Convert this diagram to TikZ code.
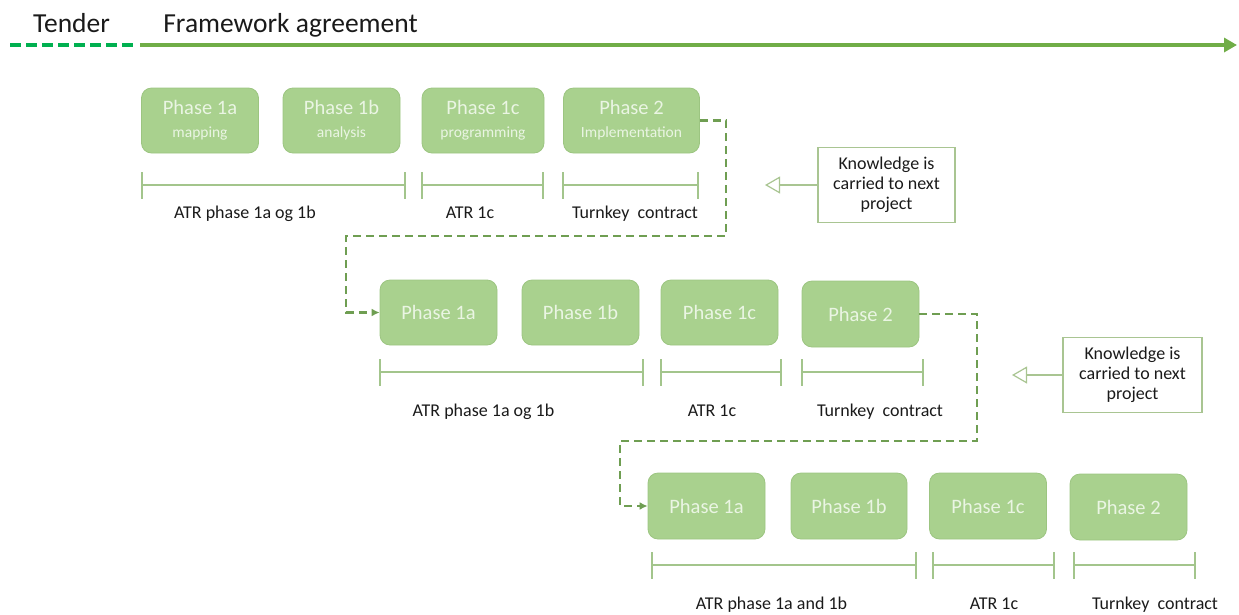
\documentclass[tikz,border=0pt]{standalone}
\usepackage{fontspec}
\setmainfont{Carlito}
\usetikzlibrary{arrows.meta}
\definecolor{boxfill}{HTML}{A9D18E}
\definecolor{boxline}{HTML}{9CC581}
\definecolor{boxtext}{HTML}{EAF5E3}
\definecolor{brk}{HTML}{A3C58C}
\definecolor{conn}{HTML}{6F9E52}
\definecolor{topline}{HTML}{70AD47}
\definecolor{tender}{HTML}{00B050}
\definecolor{kbox}{HTML}{A9C592}
\definecolor{txt}{HTML}{1A1A1A}
\tikzset{
  phasebox/.style={draw=boxline, line width=0.8pt, fill=boxfill, rounded corners=10pt,
    text=boxtext, align=center, inner sep=0pt,
    font=\fontsize{20.5}{23}\selectfont},
  bracket/.style={draw=brk, line width=1.2pt},
  lbl/.style={anchor=base, text=txt, font=\fontsize{18}{20}\selectfont, inner sep=0pt},
  connline/.style={draw=conn, line width=2.2pt, dash pattern=on 8pt off 5pt, -{Latex[length=8pt,width=8pt]}},
  kn/.style={draw=kbox, line width=1.2pt, align=center, text=txt, inner sep=0pt,
    font=\fontsize{18}{20}\selectfont},
  knarrow/.style={draw=kbox, line width=1.4pt, -{Triangle[open,length=15pt,width=17pt,line width=1.2pt]}},
}
\newcommand{\sub}[1]{{\fontsize{15.5}{23}\selectfont #1}}
\begin{document}
\begin{tikzpicture}[x=1pt,y=-1pt]
\useasboundingbox (0,0) rectangle (1239,614);
% top timeline
\node[anchor=base, text=txt, font=\fontsize{27.5}{30}\selectfont, inner sep=0pt] (tender) at (71.5,32) {Tender};
\node[anchor=base, text=txt, font=\fontsize{27.5}{30}\selectfont, inner sep=0pt] (fw) at (290.5,32) {Framework agreement};
\coordinate (t0) at (10,45);
\coordinate (t1) at (136,45);
\coordinate (f0) at (140,45);
\coordinate (f1) at (1237,45);
\draw[tender, line width=4pt, dash pattern=on 11pt off 5pt] (t0) -- (t1);
\draw[topline, line width=4pt, -{Triangle[length=13pt,width=14pt]}] (f0) -- (f1);
% row 1
\node[phasebox, minimum width=117pt, minimum height=65pt] (r1a) at (200,120.5) {Phase 1a\\\sub{mapping}};
\node[phasebox, minimum width=117pt, minimum height=65pt] (r1b) at (341.5,120.5) {Phase 1b\\\sub{analysis}};
\node[phasebox, minimum width=122pt, minimum height=65pt] (r1c) at (483,120.5) {Phase 1c\\\sub{programming}};
\node[phasebox, minimum width=136pt, minimum height=65pt] (r12) at (631.5,120.5) {Phase 2\\\sub{Implementation}};
\draw[bracket] (142,172)--(142,199) (142,185)--(405,185) (405,172)--(405,199);
\draw[bracket] (422,172)--(422,199) (422,185)--(543,185) (543,172)--(543,199);
\draw[bracket] (563,172)--(563,199) (563,185)--(698,185) (698,172)--(698,199);
\node[lbl] (l1a) at (245,218) {ATR phase 1a og 1b};
\node[lbl] (l1c) at (470,218) {ATR 1c};
\node[lbl] (l12) at (635,218) {Turnkey\hspace{0.45em}contract};
% knowledge 1
\node[kn, minimum width=137pt, minimum height=75pt] (k1) at (886.5,185) {Knowledge is\\carried to next\\project};
\coordinate (k1t) at (765,185);
\draw[knarrow] (k1.west) -- (k1t);
% connector 1
\coordinate (c1) at (726,236);
\coordinate (c2) at (346,236);
% row 2
\node[phasebox, minimum width=117pt, minimum height=65pt] (r2a) at (438.5,312.5) {Phase 1a};
\node[phasebox, minimum width=117pt, minimum height=65pt] (r2b) at (580.5,312.5) {Phase 1b};
\node[phasebox, minimum width=117pt, minimum height=65pt] (r2c) at (719.5,312.5) {Phase 1c};
\node[phasebox, minimum width=117pt, minimum height=66pt] (r22) at (860.5,314) {Phase 2};
\draw[connline] (r12.east) -| (c1) -- (c2) |- (r2a.west);
\draw[bracket] (380,359)--(380,386) (380,372)--(643,372) (643,359)--(643,386);
\draw[bracket] (661,359)--(661,386) (661,372)--(781,372) (781,359)--(781,386);
\draw[bracket] (802,359)--(802,386) (802,372)--(923,372) (923,359)--(923,386);
\node[lbl] (l2a) at (483.5,416) {ATR phase 1a og 1b};
\node[lbl] (l2c) at (712,416) {ATR 1c};
\node[lbl] (l22) at (880,416) {Turnkey\hspace{0.45em}contract};
% knowledge 2
\node[kn, minimum width=139pt, minimum height=75pt] (k2) at (1132.5,375) {Knowledge is\\carried to next\\project};
\coordinate (k2t) at (1012,375);
\draw[knarrow] (k2.west) -- (k2t);
% connector 2
\coordinate (c3) at (977,441);
\coordinate (c4) at (620,441);
% row 3
\node[phasebox, minimum width=117pt, minimum height=66pt] (r3a) at (706.5,506) {Phase 1a};
\node[phasebox, minimum width=116pt, minimum height=66pt] (r3b) at (849,506) {Phase 1b};
\node[phasebox, minimum width=117pt, minimum height=66pt] (r3c) at (988,506) {Phase 1c};
\node[phasebox, minimum width=117pt, minimum height=66pt] (r32) at (1128.5,507) {Phase 2};
\draw[connline] (r22.east) -| (c3) -- (c4) |- (r3a.west);
\draw[bracket] (652,552)--(652,579) (652,565)--(916,565) (916,552)--(916,579);
\draw[bracket] (933,552)--(933,579) (933,565)--(1054,565) (1054,552)--(1054,579);
\draw[bracket] (1074,552)--(1074,579) (1074,565)--(1195,565) (1195,552)--(1195,579);
\node[lbl] (l3a) at (771.5,609) {ATR phase 1a and 1b};
\node[lbl] (l3c) at (994,609) {ATR 1c};
\node[lbl] (l32) at (1155,609) {Turnkey\hspace{0.45em}contract};
\end{tikzpicture}
\end{document}
